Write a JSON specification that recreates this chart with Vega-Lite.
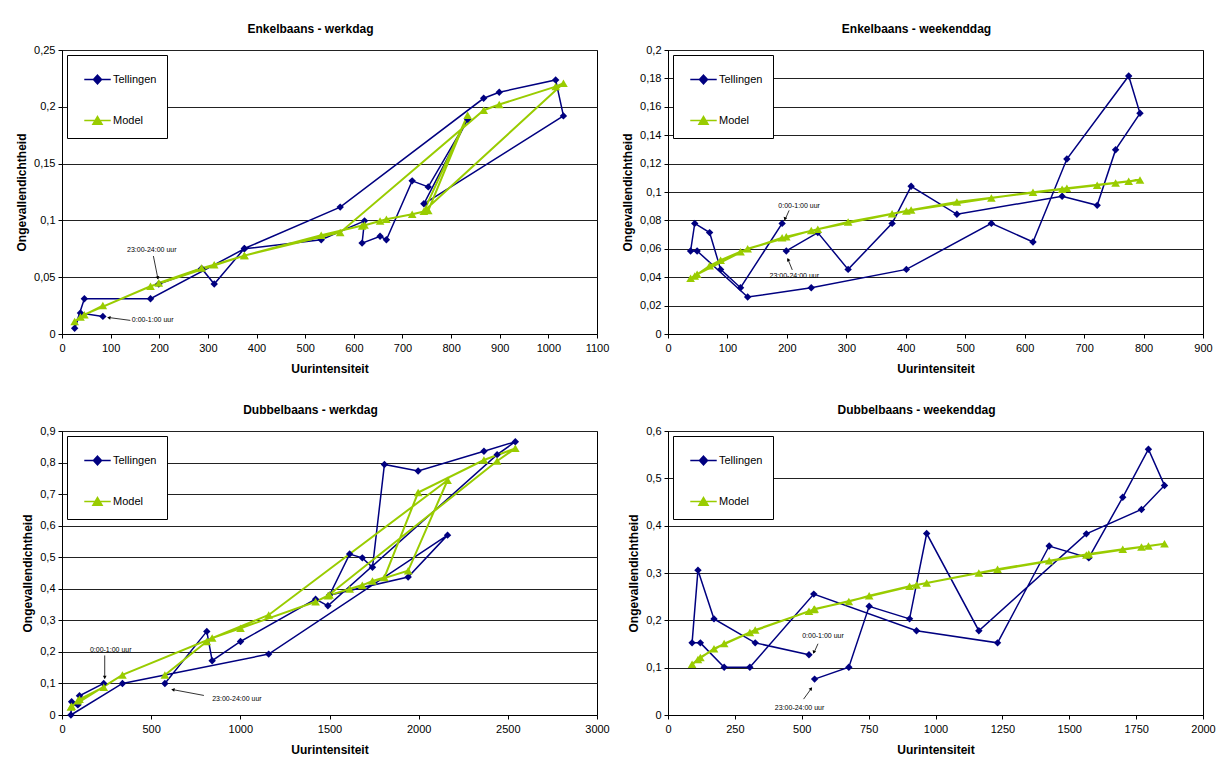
{
"$schema": "https://vega.github.io/schema/vega-lite/v6.json",
"background": "white",
"padding": {"left": 15, "top": 22, "right": 5, "bottom": 5},
"autosize": {"type": "pad"},
"bounds": "flush",
"columns": 2,
"spacing": {"row": 97, "column": 71},
"resolve": {"scale": {"x": "independent", "y": "independent", "color": "independent"}, "legend": {"color": "independent"}, "axis": {"x": "independent", "y": "independent"}},
"datasets": {
"p1": [
{"uur":0,"intensiteit":84,"Tellingen":0.0155,"Model":0.025},
{"uur":1,"intensiteit":38,"Tellingen":0.0185,"Model":0.015},
{"uur":2,"intensiteit":26,"Tellingen":0.005,"Model":0.011},
{"uur":3,"intensiteit":46,"Tellingen":0.031,"Model":0.017},
{"uur":4,"intensiteit":182,"Tellingen":0.031,"Model":0.042},
{"uur":5,"intensiteit":375,"Tellingen":0.075,"Model":0.069},
{"uur":6,"intensiteit":533,"Tellingen":0.083,"Model":0.087},
{"uur":7,"intensiteit":622,"Tellingen":0.0996,"Model":0.096},
{"uur":8,"intensiteit":617,"Tellingen":0.080,"Model":0.095},
{"uur":9,"intensiteit":654,"Tellingen":0.086,"Model":0.0995},
{"uur":10,"intensiteit":667,"Tellingen":0.083,"Model":0.101},
{"uur":11,"intensiteit":720,"Tellingen":0.1348,"Model":0.1055},
{"uur":12,"intensiteit":753,"Tellingen":0.1295,"Model":0.1087},
{"uur":13,"intensiteit":834,"Tellingen":0.189,"Model":0.1926},
{"uur":14,"intensiteit":744,"Tellingen":0.1146,"Model":0.108},
{"uur":15,"intensiteit":1031,"Tellingen":0.192,"Model":0.2207},
{"uur":16,"intensiteit":1015,"Tellingen":0.2236,"Model":0.2178},
{"uur":17,"intensiteit":899,"Tellingen":0.2128,"Model":0.202},
{"uur":18,"intensiteit":867,"Tellingen":0.2075,"Model":0.197},
{"uur":19,"intensiteit":572,"Tellingen":0.1117,"Model":0.0894},
{"uur":20,"intensiteit":375,"Tellingen":0.0753,"Model":0.069},
{"uur":21,"intensiteit":313,"Tellingen":0.044,"Model":0.061},
{"uur":22,"intensiteit":287,"Tellingen":0.0577,"Model":0.058},
{"uur":23,"intensiteit":199,"Tellingen":0.044,"Model":0.045}
],
"p2": [
{"uur":0,"intensiteit":192,"Tellingen":0.0779,"Model":0.0678},
{"uur":1,"intensiteit":122,"Tellingen":0.0326,"Model":0.058},
{"uur":2,"intensiteit":88.5,"Tellingen":0.0455,"Model":0.052},
{"uur":3,"intensiteit":70,"Tellingen":0.0714,"Model":0.048},
{"uur":4,"intensiteit":45,"Tellingen":0.0779,"Model":0.0408},
{"uur":5,"intensiteit":38,"Tellingen":0.0585,"Model":0.0392},
{"uur":6,"intensiteit":49,"Tellingen":0.0585,"Model":0.042},
{"uur":7,"intensiteit":134,"Tellingen":0.026,"Model":0.060},
{"uur":8,"intensiteit":241,"Tellingen":0.0326,"Model":0.0728},
{"uur":9,"intensiteit":401,"Tellingen":0.0455,"Model":0.0866},
{"uur":10,"intensiteit":544,"Tellingen":0.0779,"Model":0.0958},
{"uur":11,"intensiteit":614,"Tellingen":0.0648,"Model":0.0998},
{"uur":12,"intensiteit":671,"Tellingen":0.1232,"Model":0.1026},
{"uur":13,"intensiteit":775,"Tellingen":0.1817,"Model":0.1075},
{"uur":14,"intensiteit":794,"Tellingen":0.1554,"Model":0.1085},
{"uur":15,"intensiteit":753,"Tellingen":0.1298,"Model":0.1063},
{"uur":16,"intensiteit":722,"Tellingen":0.0906,"Model":0.1047},
{"uur":17,"intensiteit":663,"Tellingen":0.097,"Model":0.1019},
{"uur":18,"intensiteit":486,"Tellingen":0.0843,"Model":0.093},
{"uur":19,"intensiteit":409,"Tellingen":0.104,"Model":0.0873},
{"uur":20,"intensiteit":377,"Tellingen":0.0779,"Model":0.0847},
{"uur":21,"intensiteit":303,"Tellingen":0.0455,"Model":0.0789},
{"uur":22,"intensiteit":252,"Tellingen":0.0714,"Model":0.0737},
{"uur":23,"intensiteit":199,"Tellingen":0.0585,"Model":0.0685}
],
"p3": [
{"uur":0,"intensiteit":234,"Tellingen":0.10,"Model":0.088},
{"uur":1,"intensiteit":98,"Tellingen":0.061,"Model":0.05},
{"uur":2,"intensiteit":89,"Tellingen":0.032,"Model":0.045},
{"uur":3,"intensiteit":54,"Tellingen":0.042,"Model":0.028},
{"uur":4,"intensiteit":50,"Tellingen":0.0,"Model":0.025},
{"uur":5,"intensiteit":339,"Tellingen":0.10,"Model":0.127},
{"uur":6,"intensiteit":1159,"Tellingen":0.193,"Model":0.317},
{"uur":7,"intensiteit":2162,"Tellingen":0.57,"Model":0.744},
{"uur":8,"intensiteit":1941,"Tellingen":0.437,"Model":0.457},
{"uur":9,"intensiteit":1500,"Tellingen":0.38,"Model":0.38},
{"uur":10,"intensiteit":1613,"Tellingen":0.51,"Model":0.399},
{"uur":11,"intensiteit":1684,"Tellingen":0.498,"Model":0.411},
{"uur":12,"intensiteit":1741,"Tellingen":0.468,"Model":0.425},
{"uur":13,"intensiteit":1808,"Tellingen":0.794,"Model":0.436},
{"uur":14,"intensiteit":1997,"Tellingen":0.773,"Model":0.705},
{"uur":15,"intensiteit":2366,"Tellingen":0.836,"Model":0.808},
{"uur":16,"intensiteit":2542,"Tellingen":0.866,"Model":0.845},
{"uur":17,"intensiteit":2440,"Tellingen":0.825,"Model":0.805},
{"uur":18,"intensiteit":1491,"Tellingen":0.346,"Model":0.378},
{"uur":19,"intensiteit":1422,"Tellingen":0.367,"Model":0.359},
{"uur":20,"intensiteit":1001,"Tellingen":0.233,"Model":0.275},
{"uur":21,"intensiteit":842,"Tellingen":0.172,"Model":0.244},
{"uur":22,"intensiteit":812,"Tellingen":0.265,"Model":0.233},
{"uur":23,"intensiteit":577,"Tellingen":0.10,"Model":0.127}
],
"p4": [
{"uur":0,"intensiteit":527,"Tellingen":0.1273,"Model":0.219},
{"uur":1,"intensiteit":326,"Tellingen":0.1524,"Model":0.1795},
{"uur":2,"intensiteit":172,"Tellingen":0.203,"Model":0.14},
{"uur":3,"intensiteit":112,"Tellingen":0.306,"Model":0.117},
{"uur":4,"intensiteit":90,"Tellingen":0.1524,"Model":0.107},
{"uur":5,"intensiteit":121,"Tellingen":0.1524,"Model":0.1216},
{"uur":6,"intensiteit":210,"Tellingen":0.1009,"Model":0.151},
{"uur":7,"intensiteit":306,"Tellingen":0.1009,"Model":0.1745},
{"uur":8,"intensiteit":545,"Tellingen":0.2554,"Model":0.223},
{"uur":9,"intensiteit":929,"Tellingen":0.1781,"Model":0.2747},
{"uur":10,"intensiteit":1232,"Tellingen":0.1524,"Model":0.308},
{"uur":11,"intensiteit":1425,"Tellingen":0.357,"Model":0.326},
{"uur":12,"intensiteit":1573,"Tellingen":0.3319,"Model":0.34},
{"uur":13,"intensiteit":1700,"Tellingen":0.46,"Model":0.350},
{"uur":14,"intensiteit":1796,"Tellingen":0.5615,"Model":0.357},
{"uur":15,"intensiteit":1856,"Tellingen":0.485,"Model":0.362},
{"uur":16,"intensiteit":1770,"Tellingen":0.4342,"Model":0.355},
{"uur":17,"intensiteit":1564,"Tellingen":0.3827,"Model":0.338},
{"uur":18,"intensiteit":1162,"Tellingen":0.1781,"Model":0.30},
{"uur":19,"intensiteit":967,"Tellingen":0.3834,"Model":0.279},
{"uur":20,"intensiteit":903,"Tellingen":0.2031,"Model":0.272},
{"uur":21,"intensiteit":752,"Tellingen":0.2296,"Model":0.252},
{"uur":22,"intensiteit":676,"Tellingen":0.1009,"Model":0.2396},
{"uur":23,"intensiteit":548,"Tellingen":0.0758,"Model":0.224}
]
},
"concat": [
{
"width": 535, "height": 284,
"title": "Enkelbaans - werkdag",
"data": {"name": "p1"},
"transform": [{"fold": ["Tellingen", "Model"], "as": ["reeks", "waarde"]}],
"encoding": {
"x": {"field": "intensiteit", "type": "quantitative", "scale": {"domain": [0, 1100], "nice": false, "zero": false}, "axis": {"title": "Uurintensiteit", "values": [0,100,200,300,400,500,600,700,800,900,1000,1100], "format": "d"}},
"y": {"field": "waarde", "type": "quantitative", "scale": {"domain": [0, 0.25], "nice": false}, "axis": {"title": "Ongevallendichtheid", "values": [0,0.05,0.1,0.15,0.2,0.25], "labelExpr": "replace(format(datum.value, '.2~f'), '.', ',')"}},
"color": {"field": "reeks", "type": "nominal", "scale": {"domain": ["Tellingen", "Model"], "range": ["#000080", "#99CC00"]},
  "legend": {"title": null, "encode": {"symbols": {"update": {"shape": {"signal": "datum.value === 'Tellingen' ? 'M-1,0H1M0,-0.32L0.3,0L0,0.32L-0.3,0Z' : 'M-1,0H1M0,-0.3L0.34,0.28L-0.34,0.28Z'"}, "fill": {"signal": "datum.value === 'Tellingen' ? '#000080' : '#99CC00'"}, "stroke": {"signal": "datum.value === 'Tellingen' ? '#000080' : '#99CC00'"}, "strokeWidth": {"value": 1.6}, "size": {"value": 700}, "opacity": {"value": 1}}}}}}
},
"layer": [
{"transform": [{"filter": "datum.reeks == 'Tellingen'"}], "mark": {"type": "line", "strokeWidth": 1.5}, "encoding": {"order": {"field": "uur", "type": "quantitative"}}},
{"transform": [{"filter": "datum.reeks == 'Model'"}], "mark": {"type": "line", "strokeWidth": 2}, "encoding": {"order": {"field": "uur", "type": "quantitative"}}},
{"transform": [{"filter": "datum.reeks == 'Tellingen'"}], "mark": {"type": "point", "shape": "diamond", "filled": true, "opacity": 1, "size": 55}},
{"transform": [{"filter": "datum.reeks == 'Model'"}], "mark": {"type": "point", "shape": "triangle-up", "filled": true, "opacity": 1, "size": 75}},
{"transform": [{"filter": "datum.uur == 0 && datum.reeks == 'Tellingen'"}], "mark": {"type": "text", "text": "0:00-1:00 uur", "align": "left", "baseline": "middle", "dx": 29, "dy": 4, "fontSize": 7}, "encoding": {"color": {"value": "black"}}},
{"transform": [{"filter": "datum.uur == 0 && datum.reeks == 'Tellingen'"}], "mark": {"type": "rule", "xOffset": 27.5, "yOffset": 4, "x2Offset": 5, "y2Offset": 1, "strokeWidth": 0.8}, "encoding": {"x2": {"field": "intensiteit"}, "y2": {"field": "waarde"}, "color": {"value": "black"}}},
{"transform": [{"filter": "datum.uur == 0 && datum.reeks == 'Tellingen'"}], "mark": {"type": "point", "shape": "triangle-up", "filled": true, "opacity": 1, "size": 14, "angle": 277, "xOffset": 6, "yOffset": 1.2}, "encoding": {"color": {"value": "black"}}},
{"transform": [{"filter": "datum.uur == 23 && datum.reeks == 'Tellingen'"}], "mark": {"type": "text", "text": "23:00-24:00 uur", "align": "center", "baseline": "middle", "dx": -7, "dy": -34, "fontSize": 7}, "encoding": {"color": {"value": "black"}}},
{"transform": [{"filter": "datum.uur == 23 && datum.reeks == 'Tellingen'"}], "mark": {"type": "rule", "xOffset": -5.4, "yOffset": -28, "x2Offset": -0.8, "y2Offset": -5, "strokeWidth": 0.8}, "encoding": {"x2": {"field": "intensiteit"}, "y2": {"field": "waarde"}, "color": {"value": "black"}}},
{"transform": [{"filter": "datum.uur == 23 && datum.reeks == 'Tellingen'"}], "mark": {"type": "point", "shape": "triangle-up", "filled": true, "opacity": 1, "size": 14, "angle": 169, "xOffset": -1, "yOffset": -6}, "encoding": {"color": {"value": "black"}}}
]
},
{
"width": 535, "height": 284,
"title": "Enkelbaans - weekenddag",
"data": {"name": "p2"},
"transform": [{"fold": ["Tellingen", "Model"], "as": ["reeks", "waarde"]}],
"encoding": {
"x": {"field": "intensiteit", "type": "quantitative", "scale": {"domain": [0, 900], "nice": false, "zero": false}, "axis": {"title": "Uurintensiteit", "values": [0,100,200,300,400,500,600,700,800,900], "format": "d"}},
"y": {"field": "waarde", "type": "quantitative", "scale": {"domain": [0, 0.2], "nice": false}, "axis": {"title": "Ongevallendichtheid", "values": [0,0.02,0.04,0.06,0.08,0.1,0.12,0.14,0.16,0.18,0.2], "labelExpr": "replace(format(datum.value, '.2~f'), '.', ',')"}},
"color": {"field": "reeks", "type": "nominal", "scale": {"domain": ["Tellingen", "Model"], "range": ["#000080", "#99CC00"]},
  "legend": {"title": null, "encode": {"symbols": {"update": {"shape": {"signal": "datum.value === 'Tellingen' ? 'M-1,0H1M0,-0.32L0.3,0L0,0.32L-0.3,0Z' : 'M-1,0H1M0,-0.3L0.34,0.28L-0.34,0.28Z'"}, "fill": {"signal": "datum.value === 'Tellingen' ? '#000080' : '#99CC00'"}, "stroke": {"signal": "datum.value === 'Tellingen' ? '#000080' : '#99CC00'"}, "strokeWidth": {"value": 1.6}, "size": {"value": 700}, "opacity": {"value": 1}}}}}}
},
"layer": [
{"transform": [{"filter": "datum.reeks == 'Tellingen'"}], "mark": {"type": "line", "strokeWidth": 1.5}, "encoding": {"order": {"field": "uur", "type": "quantitative"}}},
{"transform": [{"filter": "datum.reeks == 'Model'"}], "mark": {"type": "line", "strokeWidth": 2}, "encoding": {"order": {"field": "uur", "type": "quantitative"}}},
{"transform": [{"filter": "datum.reeks == 'Tellingen'"}], "mark": {"type": "point", "shape": "diamond", "filled": true, "opacity": 1, "size": 55}},
{"transform": [{"filter": "datum.reeks == 'Model'"}], "mark": {"type": "point", "shape": "triangle-up", "filled": true, "opacity": 1, "size": 75}},
{"transform": [{"filter": "datum.uur == 0 && datum.reeks == 'Tellingen'"}], "mark": {"type": "text", "text": "0:00-1:00 uur", "align": "center", "baseline": "middle", "dx": 17, "dy": -17, "fontSize": 7}, "encoding": {"color": {"value": "black"}}},
{"transform": [{"filter": "datum.uur == 0 && datum.reeks == 'Tellingen'"}], "mark": {"type": "rule", "xOffset": 7, "yOffset": -13, "x2Offset": 3, "y2Offset": -4, "strokeWidth": 0.8}, "encoding": {"x2": {"field": "intensiteit"}, "y2": {"field": "waarde"}, "color": {"value": "black"}}},
{"transform": [{"filter": "datum.uur == 0 && datum.reeks == 'Tellingen'"}], "mark": {"type": "point", "shape": "triangle-up", "filled": true, "opacity": 1, "size": 14, "angle": 198, "xOffset": 2.8, "yOffset": -4.5}, "encoding": {"color": {"value": "black"}}},
{"transform": [{"filter": "datum.uur == 23 && datum.reeks == 'Tellingen'"}], "mark": {"type": "text", "text": "23:00-24:00 uur", "align": "center", "baseline": "middle", "dx": 8, "dy": 25, "fontSize": 7}, "encoding": {"color": {"value": "black"}}},
{"transform": [{"filter": "datum.uur == 23 && datum.reeks == 'Tellingen'"}], "mark": {"type": "rule", "xOffset": 6, "yOffset": 19, "x2Offset": 1.5, "y2Offset": 8, "strokeWidth": 0.8}, "encoding": {"x2": {"field": "intensiteit"}, "y2": {"field": "waarde"}, "color": {"value": "black"}}},
{"transform": [{"filter": "datum.uur == 23 && datum.reeks == 'Tellingen'"}], "mark": {"type": "point", "shape": "triangle-up", "filled": true, "opacity": 1, "size": 14, "angle": 337, "xOffset": 1.8, "yOffset": 8.5}, "encoding": {"color": {"value": "black"}}}
]
},
{
"width": 535, "height": 284,
"title": "Dubbelbaans - werkdag",
"data": {"name": "p3"},
"transform": [{"fold": ["Tellingen", "Model"], "as": ["reeks", "waarde"]}],
"encoding": {
"x": {"field": "intensiteit", "type": "quantitative", "scale": {"domain": [0, 3000], "nice": false, "zero": false}, "axis": {"title": "Uurintensiteit", "values": [0,500,1000,1500,2000,2500,3000], "format": "d"}},
"y": {"field": "waarde", "type": "quantitative", "scale": {"domain": [0, 0.9], "nice": false}, "axis": {"title": "Ongevallendichtheid", "values": [0,0.1,0.2,0.3,0.4,0.5,0.6,0.7,0.8,0.9], "labelExpr": "replace(format(datum.value, '.2~f'), '.', ',')"}},
"color": {"field": "reeks", "type": "nominal", "scale": {"domain": ["Tellingen", "Model"], "range": ["#000080", "#99CC00"]},
  "legend": {"title": null, "encode": {"symbols": {"update": {"shape": {"signal": "datum.value === 'Tellingen' ? 'M-1,0H1M0,-0.32L0.3,0L0,0.32L-0.3,0Z' : 'M-1,0H1M0,-0.3L0.34,0.28L-0.34,0.28Z'"}, "fill": {"signal": "datum.value === 'Tellingen' ? '#000080' : '#99CC00'"}, "stroke": {"signal": "datum.value === 'Tellingen' ? '#000080' : '#99CC00'"}, "strokeWidth": {"value": 1.6}, "size": {"value": 700}, "opacity": {"value": 1}}}}}}
},
"layer": [
{"transform": [{"filter": "datum.reeks == 'Tellingen'"}], "mark": {"type": "line", "strokeWidth": 1.5}, "encoding": {"order": {"field": "uur", "type": "quantitative"}}},
{"transform": [{"filter": "datum.reeks == 'Model'"}], "mark": {"type": "line", "strokeWidth": 2}, "encoding": {"order": {"field": "uur", "type": "quantitative"}}},
{"transform": [{"filter": "datum.reeks == 'Tellingen'"}], "mark": {"type": "point", "shape": "diamond", "filled": true, "opacity": 1, "size": 55}},
{"transform": [{"filter": "datum.reeks == 'Model'"}], "mark": {"type": "point", "shape": "triangle-up", "filled": true, "opacity": 1, "size": 75}},
{"transform": [{"filter": "datum.uur == 0 && datum.reeks == 'Tellingen'"}], "mark": {"type": "text", "text": "0:00-1:00 uur", "align": "center", "baseline": "middle", "dx": 7, "dy": -33, "fontSize": 7}, "encoding": {"color": {"value": "black"}}},
{"transform": [{"filter": "datum.uur == 0 && datum.reeks == 'Tellingen'"}], "mark": {"type": "rule", "xOffset": 1, "yOffset": -28, "x2Offset": 1, "y2Offset": -5, "strokeWidth": 0.8}, "encoding": {"x2": {"field": "intensiteit"}, "y2": {"field": "waarde"}, "color": {"value": "black"}}},
{"transform": [{"filter": "datum.uur == 0 && datum.reeks == 'Tellingen'"}], "mark": {"type": "point", "shape": "triangle-up", "filled": true, "opacity": 1, "size": 14, "angle": 180, "xOffset": 1, "yOffset": -6}, "encoding": {"color": {"value": "black"}}},
{"transform": [{"filter": "datum.uur == 23 && datum.reeks == 'Tellingen'"}], "mark": {"type": "text", "text": "23:00-24:00 uur", "align": "center", "baseline": "middle", "dx": 72, "dy": 16, "fontSize": 7}, "encoding": {"color": {"value": "black"}}},
{"transform": [{"filter": "datum.uur == 23 && datum.reeks == 'Tellingen'"}], "mark": {"type": "rule", "xOffset": 39, "yOffset": 12, "x2Offset": 7, "y2Offset": 6, "strokeWidth": 0.8}, "encoding": {"x2": {"field": "intensiteit"}, "y2": {"field": "waarde"}, "color": {"value": "black"}}},
{"transform": [{"filter": "datum.uur == 23 && datum.reeks == 'Tellingen'"}], "mark": {"type": "point", "shape": "triangle-up", "filled": true, "opacity": 1, "size": 14, "angle": 279, "xOffset": 8, "yOffset": 6.2}, "encoding": {"color": {"value": "black"}}}
]
},
{
"width": 535, "height": 284,
"title": "Dubbelbaans - weekenddag",
"data": {"name": "p4"},
"transform": [{"fold": ["Tellingen", "Model"], "as": ["reeks", "waarde"]}],
"encoding": {
"x": {"field": "intensiteit", "type": "quantitative", "scale": {"domain": [0, 2000], "nice": false, "zero": false}, "axis": {"title": "Uurintensiteit", "values": [0,250,500,750,1000,1250,1500,1750,2000], "format": "d"}},
"y": {"field": "waarde", "type": "quantitative", "scale": {"domain": [0, 0.6], "nice": false}, "axis": {"title": "Ongevallendichtheid", "values": [0,0.1,0.2,0.3,0.4,0.5,0.6], "labelExpr": "replace(format(datum.value, '.2~f'), '.', ',')"}},
"color": {"field": "reeks", "type": "nominal", "scale": {"domain": ["Tellingen", "Model"], "range": ["#000080", "#99CC00"]},
  "legend": {"title": null, "encode": {"symbols": {"update": {"shape": {"signal": "datum.value === 'Tellingen' ? 'M-1,0H1M0,-0.32L0.3,0L0,0.32L-0.3,0Z' : 'M-1,0H1M0,-0.3L0.34,0.28L-0.34,0.28Z'"}, "fill": {"signal": "datum.value === 'Tellingen' ? '#000080' : '#99CC00'"}, "stroke": {"signal": "datum.value === 'Tellingen' ? '#000080' : '#99CC00'"}, "strokeWidth": {"value": 1.6}, "size": {"value": 700}, "opacity": {"value": 1}}}}}}
},
"layer": [
{"transform": [{"filter": "datum.reeks == 'Tellingen'"}], "mark": {"type": "line", "strokeWidth": 1.5}, "encoding": {"order": {"field": "uur", "type": "quantitative"}}},
{"transform": [{"filter": "datum.reeks == 'Model'"}], "mark": {"type": "line", "strokeWidth": 2}, "encoding": {"order": {"field": "uur", "type": "quantitative"}}},
{"transform": [{"filter": "datum.reeks == 'Tellingen'"}], "mark": {"type": "point", "shape": "diamond", "filled": true, "opacity": 1, "size": 55}},
{"transform": [{"filter": "datum.reeks == 'Model'"}], "mark": {"type": "point", "shape": "triangle-up", "filled": true, "opacity": 1, "size": 75}},
{"transform": [{"filter": "datum.uur == 0 && datum.reeks == 'Tellingen'"}], "mark": {"type": "text", "text": "0:00-1:00 uur", "align": "center", "baseline": "middle", "dx": 14, "dy": -19, "fontSize": 7}, "encoding": {"color": {"value": "black"}}},
{"transform": [{"filter": "datum.uur == 0 && datum.reeks == 'Tellingen'"}], "mark": {"type": "rule", "xOffset": 9, "yOffset": -11, "x2Offset": 5, "y2Offset": -2, "strokeWidth": 0.8}, "encoding": {"x2": {"field": "intensiteit"}, "y2": {"field": "waarde"}, "color": {"value": "black"}}},
{"transform": [{"filter": "datum.uur == 0 && datum.reeks == 'Tellingen'"}], "mark": {"type": "point", "shape": "triangle-up", "filled": true, "opacity": 1, "size": 14, "angle": 203, "xOffset": 4.8, "yOffset": -2.5}, "encoding": {"color": {"value": "black"}}},
{"transform": [{"filter": "datum.uur == 23 && datum.reeks == 'Tellingen'"}], "mark": {"type": "text", "text": "23:00-24:00 uur", "align": "center", "baseline": "middle", "dx": -15, "dy": 29, "fontSize": 7}, "encoding": {"color": {"value": "black"}}},
{"transform": [{"filter": "datum.uur == 23 && datum.reeks == 'Tellingen'"}], "mark": {"type": "rule", "xOffset": -11, "yOffset": 20, "x2Offset": -3, "y2Offset": 9, "strokeWidth": 0.8}, "encoding": {"x2": {"field": "intensiteit"}, "y2": {"field": "waarde"}, "color": {"value": "black"}}},
{"transform": [{"filter": "datum.uur == 23 && datum.reeks == 'Tellingen'"}], "mark": {"type": "point", "shape": "triangle-up", "filled": true, "opacity": 1, "size": 14, "angle": 37, "xOffset": -3.5, "yOffset": 9.5}, "encoding": {"color": {"value": "black"}}}
]
}
],
"config": {
"font": "Liberation Sans",
"view": {"stroke": "black", "strokeWidth": 1},
"axis": {"labelFont": "Liberation Sans", "labelFontSize": 11, "labelColor": "black", "titleFont": "Liberation Sans", "titleFontSize": 12, "titleFontWeight": "bold", "titleColor": "black", "domainColor": "black", "tickColor": "black", "tickSize": 4, "gridColor": "#222222", "gridWidth": 1, "gridOpacity": 1},
"axisX": {"grid": false, "labelPadding": 4, "titlePadding": 10, "labelFlush": false, "labelOverlap": false},
"axisY": {"grid": true, "labelPadding": 3, "titlePadding": 5, "labelOverlap": false},
"title": {"font": "Liberation Sans", "fontSize": 12, "fontWeight": "bold", "color": "black", "anchor": "middle", "dx": -19, "offset": 8},
"legend": {"orient": "top-left", "offset": 5, "padding": 10, "strokeColor": "black", "fillColor": "white", "symbolSize": 700, "symbolOffset": 6, "rowPadding": 19, "labelFont": "Liberation Sans", "labelFontSize": 11, "labelColor": "black", "labelOffset": 1}
}
}
